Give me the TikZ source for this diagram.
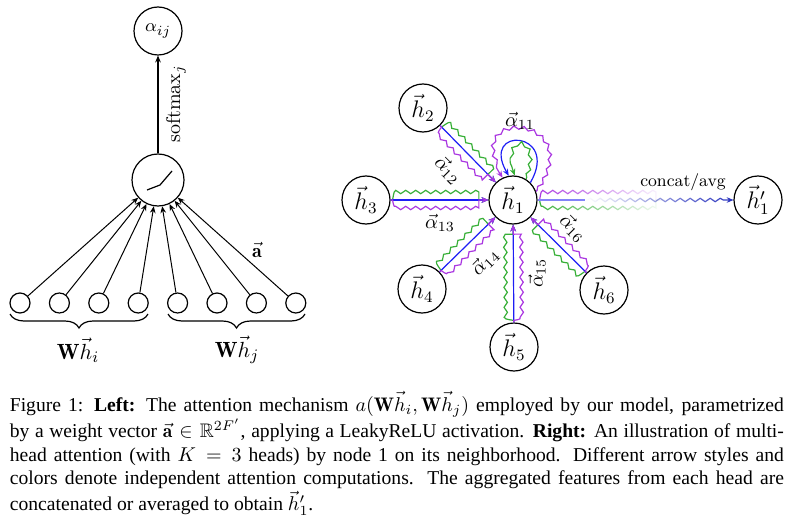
\documentclass[tikz,border=0pt]{standalone}
\usepackage{amsmath,amssymb}
\usepackage{fontspec}
\newfontfamily\capfont{Liberation Serif}
\usetikzlibrary{arrows.meta,decorations.pathmorphing,decorations.pathreplacing,fadings,calc}
\definecolor{gc}{RGB}{55,175,55}
\definecolor{pc}{RGB}{170,55,225}
\definecolor{bc}{RGB}{30,30,245}
\definecolor{dbc}{RGB}{40,50,190}
\begin{document}
\begin{tikzpicture}[x=0.5pt,y=0.5pt,
  tip/.style={-{Stealth[length=3.4pt,width=2.8pt]}},
  hnode/.style={circle,draw,line width=0.6pt,minimum size=24pt,inner sep=0pt,font=\fontsize{12}{14}\selectfont},
  innode/.style={circle,draw,line width=0.6pt,minimum size=10pt,inner sep=0pt},
  lbl/.style={font=\fontsize{10}{12}\selectfont,inner sep=0pt},
  wavy/.style={decorate,decoration={snake,amplitude=0.85pt,segment length=5pt,pre length=1pt,post length=3.5pt,raise=#1}},
  wavy/.default=0pt,
  edge/.style={line width=0.6pt}
]
\useasboundingbox (0,0) rectangle (790,520);
% ---------------- left ----------------
\node[hnode,font=\fontsize{9.5}{11}\selectfont] (alpha) at (158,489) {$\alpha_{ij}$};
\node[circle,draw,line width=0.6pt,minimum size=26pt,inner sep=0pt] (act) at (158,340) {};
\draw[line width=0.6pt] (147,330) -- (160,335) -- (172,349);
\foreach \i [count=\k] in {0,...,7} \node[innode] (in\k) at ({20+39.4*\i},217) {};
\foreach \k in {1,...,8} \draw[edge,line width=0.5pt,tip] (in\k) -- (act);
\draw[line width=0.6pt,decorate,decoration={brace,mirror,amplitude=7pt}] (10,206) -- (148,206);
\draw[line width=0.6pt,decorate,decoration={brace,mirror,amplitude=7pt}] (168,206) -- (305,206);
\node[font=\fontsize{11}{13}\selectfont] (whi) at (78,170) {$\mathbf{W}\vec{h}_i$};
\node[font=\fontsize{11}{13}\selectfont] (whj) at (237,170) {$\mathbf{W}\vec{h}_j$};
\draw[edge,tip] (act) -- (alpha);
\node[lbl,rotate=90] (smx) at (176,416) {$\mathrm{softmax}_j$};
\node[lbl] (avec) at (257,270) {$\vec{\mathbf{a}}$};
% ---------------- right ----------------
\node[hnode] (h1) at (513,320) {$\vec{h}_1$};
\node[hnode] (h2) at (423,412) {$\vec{h}_2$};
\node[hnode] (h3) at (366,320) {$\vec{h}_3$};
\node[hnode] (h4) at (422,231) {$\vec{h}_4$};
\node[hnode] (h5) at (514,173) {$\vec{h}_5$};
\node[hnode] (h6) at (604,230) {$\vec{h}_6$};
\node[hnode] (h1p) at (758,320) {$\vec{h}'_1$};
\foreach \n in {2,...,6} {
  \draw[edge,gc,wavy=4pt,tip] (h\n) -- (h1);
  \draw[edge,bc,tip] (h\n) -- (h1);
  \draw[edge,pc,wavy=-4pt,tip] (h\n) -- (h1);
}
% self loops
\draw[edge,pc,wavy,tip] (h1.20) .. controls +(55:92) and +(125:86) .. (h1.115);
\draw[edge,bc,tip] (h1.45) .. controls +(60:60) and +(120:58) .. (h1.100);
\draw[edge,gc,wavy,tip] (h1.58) .. controls +(70:46) and +(112:44) .. (h1.86);
% concat / avg
\coordinate (cf) at (665,320);
\coordinate (cb) at (585,320);
\draw[edge,pc,wavy=4pt,path fading=east] (h1) -- (cf);
\draw[edge,gc,wavy=-4pt,path fading=east] (h1) -- (cf);
\draw[edge,bc!55] (h1) -- (cb);
\draw[edge,dbc,wavy,tip,path fading=west] (cb) -- (h1p);
\node[lbl,font=\fontsize{8.6}{10}\selectfont] (cc) at (683,338) {concat/avg};
% attention labels
\node[lbl] (a11) at (520,399) {$\vec{\alpha}_{11}$};
\node[lbl,rotate=-45] (a12) at (448,350) {$\vec{\alpha}_{12}$};
\node[lbl] (a13) at (440,297) {$\vec{\alpha}_{13}$};
\node[lbl,rotate=45] (a14) at (485,258) {$\vec{\alpha}_{14}$};
\node[lbl,rotate=90] (a15) at (537,247) {$\vec{\alpha}_{15}$};
\node[lbl,rotate=-45] (a16) at (573,292) {$\vec{\alpha}_{16}$};
% ---------------- caption ----------------
\node[anchor=base west,inner sep=0pt,font=\capfont\fontsize{9.8}{11.75}\selectfont] (cap) at (9.5,109) {\parbox[t]{387pt}{%
Figure 1: \textbf{Left:} The attention mechanism $a(\mathbf{W}\vec{h}_i,\mathbf{W}\vec{h}_j)$ employed by our model, parametrized\linebreak
by a weight vector $\vec{\mathbf{a}}\in\mathbb{R}^{2F'}$, applying a LeakyReLU activation. \textbf{Right:} An illustration of multi-\linebreak
head attention (with $K = 3$ heads) by node 1 on its neighborhood. Different arrow styles and\linebreak
colors denote independent attention computations. The aggregated features from each head are\linebreak
concatenated or averaged to obtain $\vec{h}'_1$.}};
\end{tikzpicture}
\end{document}
